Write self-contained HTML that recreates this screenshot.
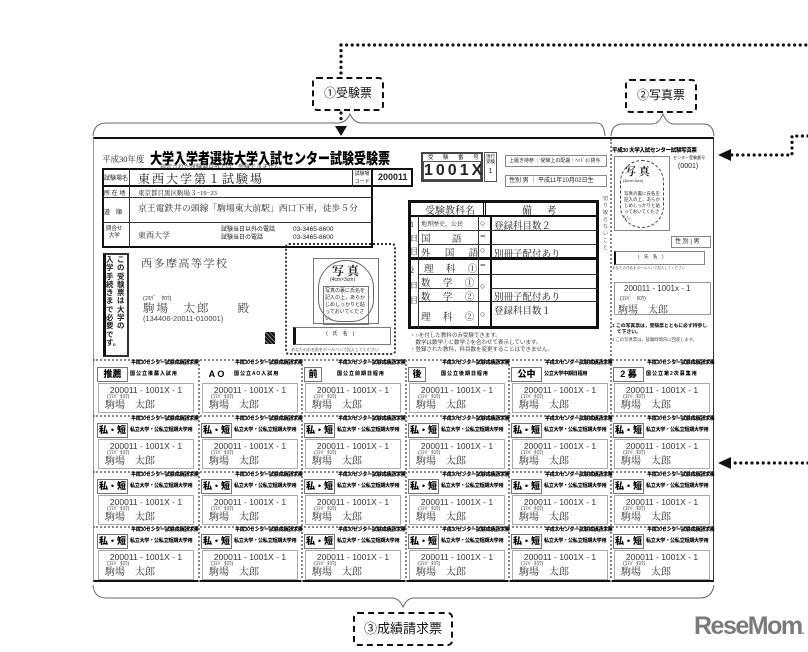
<!DOCTYPE html>
<html><head><meta charset="utf-8">
<style>
*{margin:0;padding:0;box-sizing:border-box}
body{width:808px;height:652px;background:#fff;position:relative;overflow:hidden;font-family:"Liberation Sans","Noto Sans CJK JP",sans-serif;color:#222}
.a{position:absolute;white-space:nowrap}
.s{font-family:"Liberation Serif","Noto Serif CJK JP",serif}
.card{position:absolute;width:103px;height:55.5px;white-space:nowrap}
.card div{white-space:nowrap;line-height:1.1}
.card .lb{position:absolute;left:2px;top:7px;width:31px;height:15px;border:1px solid #777;font-weight:900;font-size:9px;line-height:13px;text-align:center;color:#000}
.card .h1{position:absolute;left:36px;top:1px;font-size:5px;font-weight:900;color:#000;letter-spacing:-.2px}
.card .h2{position:absolute;left:35px;top:12px;font-size:5px;font-weight:900;color:#000;background:#fff;letter-spacing:-.2px}
.card .ib{position:absolute;left:3px;top:23px;width:96px;height:30px;border:1px solid #aaa}
.card .n{position:absolute;left:0;width:100%;top:2px;text-align:center;font-size:8.5px;color:#333}
.card .k{position:absolute;left:8px;top:11px;font-size:5px;color:#333}
.card .m{position:absolute;left:6px;top:16px;font-size:10px;line-height:11px;color:#333;font-family:"Liberation Serif","Noto Serif CJK JP",serif}
.lab{position:absolute;border:2.5px dashed #111;border-radius:5px;font-size:12px;text-align:center;color:#111}
</style></head><body>

<svg class="a" style="left:0;top:0" width="808" height="652">
 <g fill="none" stroke="#111" stroke-width="3.2" stroke-linecap="round" stroke-dasharray="0 5.6">
  <path d="M341,45 L808,45"/>
  <path d="M341,45 L341,76"/>
  <path d="M341,113 L341,124"/>
  <path d="M808,136 L792,136 L792,155 L731,155"/>
  <path d="M808,463 L731,463"/>
 </g>
 <path d="M335,126 L347,126 L341,136 Z" fill="#111"/>
 <path d="M718,155 L731,149 L731,161 Z" fill="#111"/>
 <path d="M718,463 L731,457 L731,469 Z" fill="#111"/>
 <g fill="none" stroke="#666" stroke-width="1">
  <path d="M93,136 Q94,123 106,123 L338,123 Q346,123 350,114 Q354,123 362,123 L597,123 Q604,123 605,136"/>
  <path d="M611,136 Q612,124 622,124 L652,124 Q659,124 663,114 Q667,124 674,124 L704,124 Q713,124 714,136"/>
  <path d="M93,585 Q94,598 106,598 L392,598 Q399,598 403,607 Q407,598 414,598 L700,598 Q712,598 714,585"/>
 </g>
</svg>

<div class="lab" style="left:312px;top:77px;width:72px;height:34px;line-height:29px">①受験票</div>
<div class="lab" style="left:625px;top:79px;width:72px;height:34px;line-height:29px">②写真票</div>
<div class="lab" style="left:353px;top:612px;width:100px;height:34px;line-height:29px;font-size:13px">③成績請求票</div>
<div class="a" style="left:694px;top:612px;font-size:25px;font-weight:bold;color:#7a7a7a;letter-spacing:-1.5px">ReseMom<span style="font-size:10px">.</span></div>

<div class="a" style="left:93px;top:137px;width:621px;height:445px;border-top:2px solid #111;border-bottom:2px solid #111;border-right:1.5px solid #333;border-left:1px solid #999"></div>
<div class="a" style="left:610px;top:139px;height:221px;border-left:2px dotted #888"></div>

<div class="a s" style="left:102px;top:153px;font-size:8.5px">平成30年度</div>
<div class="a" style="left:150px;top:147px;font-size:12px;font-weight:900;color:#000;transform:scaleY(1.25);transform-origin:left top">大学入学者選抜大学入試センター試験受験票</div>
<div class="a" style="left:160px;top:162px;font-size:6px;color:#444">指定された試験場以外では、受験できません。</div>

<div class="a" style="left:102px;top:168px;width:311px;height:19px;border:2px solid #111"></div>
<div class="a" style="left:102px;top:185px;width:271px;height:63px;border:2px solid #111"></div>
<div class="a" style="left:129px;top:168px;height:80px;border-left:1px solid #333"></div>
<div class="a" style="left:102px;top:197px;width:271px;border-top:1px solid #333"></div>
<div class="a" style="left:102px;top:222px;width:271px;border-top:1px solid #333"></div>
<div class="a" style="left:352px;top:168px;width:21px;height:19px;border-left:1px solid #333;border-right:2px solid #111;font-size:5px;text-align:center;line-height:8px;padding-top:2px">試験場<br>コード</div>
<div class="a" style="left:378px;top:172px;font-size:9px;font-weight:900">200011</div>
<div class="a" style="left:104px;top:173px;font-size:6px">試験場名</div>
<div class="a s" style="left:138px;top:170px;font-size:12px;letter-spacing:2px">東西大学第１試験場</div>
<div class="a" style="left:104px;top:188px;font-size:6px">所 在 地</div>
<div class="a s" style="left:138px;top:188px;font-size:6.5px">東京都目黒区駒場３−19−23</div>
<div class="a" style="left:104px;top:207px;font-size:6px">道　順</div>
<div class="a s" style="left:138px;top:201px;font-size:8.8px">京王電鉄井の頭線「駒場東大前駅」西口下車，徒歩５分</div>
<div class="a" style="left:106px;top:226px;font-size:5.5px;line-height:7px;text-align:center">問合せ<br>大学</div>
<div class="a s" style="left:138px;top:230px;font-size:8px">東西大学</div>
<div class="a" style="left:221px;top:226px;font-size:6px;line-height:8px">試験当日以外の電話<br>試験当日の電話</div>
<div class="a" style="left:293px;top:226px;font-size:6.5px;line-height:8px">03-3465-8600<br>03-3465-8600</div>

<div class="a" style="left:103px;top:253px;width:26px;height:104px;border:2px solid #333;border-left:3px solid #111"></div>
<div class="a" style="left:106px;top:256px;width:10px;font-size:7.5px;font-weight:bold;line-height:8.3px;white-space:normal">入学手続きまで必要です。</div>
<div class="a" style="left:117px;top:256px;width:10px;font-size:7.5px;font-weight:bold;line-height:8.3px;white-space:normal">この受験票は大学の</div>

<div class="a s" style="left:141px;top:255px;font-size:11px;color:#444;letter-spacing:1.5px">西多摩高等学校</div>
<div class="a" style="left:143px;top:294px;font-size:5.5px">(ｺﾏﾊﾞ　ﾀﾛｳ)</div>
<div class="a s" style="left:143px;top:300px;font-size:11.5px;color:#444;letter-spacing:2px">駒場　太郎　　殿</div>
<div class="a" style="left:143px;top:314px;font-size:7.5px;color:#444">(134406-20011-010001)</div>
<div class="a" style="left:265px;top:332px;width:10px;height:12px;background:repeating-linear-gradient(45deg,#111 0 2px,#888 2px 3px)"></div>

<div class="a" style="left:285px;top:243px;width:111px;height:112px;border:2px dotted #333;border-radius:4px"></div>
<div class="a" style="left:313px;top:258px;width:66px;height:66px;border:1px solid #777"></div>
<div class="a" style="left:318px;top:260px;width:56px;height:62px;border:1px solid #666;border-radius:28px 28px 22px 22px"></div>
<div class="a s" style="left:332px;top:262px;font-size:12px;font-weight:bold">写 真</div>
<div class="a" style="left:330px;top:277px;font-size:5px">(4cm×3cm)</div>
<div class="a" style="left:323px;top:286px;font-size:5px;line-height:7px;white-space:normal;width:46px;border:1px solid #777;padding:1px">写真の裏に氏名を記入の上，あらかじめしっかりと貼っておいてください。</div>
<div class="a" style="left:293px;top:327px;width:98px;height:18px;border:1px solid #777;border-left:3px solid #111"></div>
<div class="a" style="left:326px;top:330px;font-size:5px">(　氏　名　)</div>
<div class="a" style="left:291px;top:347px;font-size:4px;color:#555">あなたのお名前をボールペンで記入してください</div>

<div class="a" style="left:421px;top:152px;width:62px;height:30px;border:2px solid #444"></div>
<div class="a" style="left:428px;top:153px;font-size:5.5px;letter-spacing:4px">受 験 番 号</div>
<div class="a" style="left:423px;top:161px;width:58px;height:19px;border:1px solid #555;font-size:16px;font-weight:bold;text-align:center;line-height:18px;letter-spacing:3px">1001X</div>
<div class="a" style="left:484px;top:152px;width:13px;height:30px;border:1px solid #555;font-size:4.5px;text-align:center;line-height:5px;padding-top:1px">現行<br>受験<br><br><span style="font-size:7px">1</span></div>
<div class="a" style="left:505px;top:155px;width:102px;height:12px;border:1px solid #888;font-size:5px;line-height:10px;padding-left:3px">上履き持参 ｜受験上の配慮｜ﾍｯﾄﾞﾎﾝ貸与</div>
<div class="a" style="left:505px;top:175px;width:102px;height:12px;border:1px solid #888;font-size:6px;line-height:10px;padding-left:3px">性別 男 ｜ 平成11年10月02日生</div>

<div class="a" style="left:408px;top:200px;width:191px;height:129px;border:3px solid #111"></div>
<div class="a" style="left:408px;top:215px;width:191px;border-top:2px solid #111"></div>
<div class="a" style="left:408px;top:257px;width:191px;border-top:3px solid #111"></div>
<div class="a" style="left:483px;top:200px;height:16px;border-left:3px double #111"></div>
<div class="a" style="left:418px;top:216px;height:112px;border-left:1px solid #333"></div>
<div class="a" style="left:478px;top:216px;height:112px;border-left:1px solid #333"></div>
<div class="a" style="left:490px;top:216px;height:112px;border-left:2px solid #111"></div>
<div class="a" style="left:418px;top:230px;width:180px;border-top:1px solid #333"></div>
<div class="a" style="left:418px;top:244px;width:180px;border-top:1px solid #333"></div>
<div class="a" style="left:418px;top:274px;width:180px;border-top:1px solid #333"></div>
<div class="a" style="left:418px;top:288px;width:60px;border-top:1px solid #333"></div>
<div class="a" style="left:490px;top:288px;width:108px;border-top:1px solid #333"></div>
<div class="a" style="left:418px;top:301px;width:180px;border-top:1px solid #333"></div>
<div class="a s" style="left:425px;top:202px;font-size:10px">受験教科名</div>
<div class="a s" style="left:522px;top:202px;font-size:10px;letter-spacing:6px">備 考</div>
<div class="a s" style="left:410px;top:218px;font-size:8px;line-height:13.5px;white-space:normal;width:8px">1日目</div>
<div class="a s" style="left:410px;top:263px;font-size:8px;line-height:15px;white-space:normal;width:8px">2日目</div>
<div class="a s" style="left:421px;top:219px;font-size:6px">地理歴史，公民</div>
<div class="a s" style="left:421px;top:231px;font-size:9.5px;letter-spacing:6px">国　語</div>
<div class="a s" style="left:421px;top:245px;font-size:9.5px;letter-spacing:6px">外 国 語</div>
<div class="a s" style="left:424px;top:261px;font-size:9.5px;letter-spacing:5px">理 科 ①</div>
<div class="a s" style="left:421px;top:275px;font-size:9.5px;letter-spacing:5px">数 学 ①</div>
<div class="a s" style="left:421px;top:289px;font-size:9.5px;letter-spacing:5px">数 学 ②</div>
<div class="a s" style="left:421px;top:309px;font-size:9.5px;letter-spacing:5px">理 科 ②</div>
<div class="a" style="left:480px;top:218px;font-size:9px">○</div>
<div class="a" style="left:480px;top:231px;font-size:9px;font-weight:bold">−</div>
<div class="a" style="left:480px;top:245px;font-size:9px">○</div>
<div class="a" style="left:480px;top:260px;font-size:9px;font-weight:bold">−</div>
<div class="a" style="left:480px;top:281px;font-size:9px">○</div>
<div class="a" style="left:480px;top:309px;font-size:9px">○</div>
<div class="a s" style="left:494px;top:218px;font-size:9.5px">登録科目数２</div>
<div class="a s" style="left:494px;top:246px;font-size:9.5px">別冊子配付あり</div>
<div class="a s" style="left:494px;top:289px;font-size:9.5px">別冊子配付あり</div>
<div class="a s" style="left:494px;top:303px;font-size:9.5px">登録科目数１</div>
<div class="a" style="left:410px;top:333px;font-size:5.5px;line-height:7px;color:#444">・○を付した教科のみ受験できます。<br>　数学は数学①と数学②を合わせて表示しています。<br>・登録された教科，科目数を変更することはできません。</div>
<div class="a" style="left:603px;top:196px;width:6px;font-size:5px;line-height:7px;white-space:normal;color:#555">切り取らないこと</div>

<div class="a" style="left:612px;top:146px;font-size:5.5px;font-weight:900;color:#000;letter-spacing:-.3px">平成30 大学入試センター試験写真票</div>
<div class="a" style="left:614px;top:156px;width:56px;height:75px;border:1px solid #888"></div>
<div class="a" style="left:620px;top:160px;width:44px;height:68px;border:1px dashed #444;border-radius:22px"></div>
<div class="a s" style="left:625px;top:163px;font-size:11px;font-weight:bold">写 真</div>
<div class="a" style="left:623px;top:178px;font-size:4px">(4cm×3cm)</div>
<div class="a" style="left:624px;top:191px;width:36px;font-size:4.5px;line-height:6px;white-space:normal">写真の裏に氏名を記入の上，あらかじめしっかりと貼っておいてください。</div>
<div class="a" style="left:673px;top:155px;font-size:4px">センター受験番号</div>
<div class="a" style="left:678px;top:163px;font-size:7px">(0001)</div>
<div class="a" style="left:671px;top:236px;width:40px;height:12px;border:1px solid #888;font-size:6px;line-height:10px;padding-left:3px">性 別 | 男</div>
<div class="a" style="left:614px;top:251px;width:91px;height:14px;border:1px solid #888;border-left:2px solid #111;font-size:4.5px;padding-left:22px;line-height:10px">(　氏　名　)</div>
<div class="a" style="left:612px;top:266px;font-size:3.5px;color:#555">あなたの氏名をボールペンで記入してください</div>
<div class="a" style="left:614px;top:282px;width:97px;height:33px;border:1px solid #999"></div>
<div class="a" style="left:624px;top:284px;font-size:8px;color:#333">200011 - 1001x - 1</div>
<div class="a" style="left:620px;top:295px;font-size:5px">(ｺﾏﾊﾞ　ﾀﾛｳ)</div>
<div class="a s" style="left:618px;top:301px;font-size:10px;color:#333">駒場　太郎</div>
<div class="a" style="left:612px;top:324px;font-size:4.8px;font-weight:900;line-height:6px">1 この写真票は，受験票とともに必ず持参し<br>　て下さい。</div>
<div class="a" style="left:612px;top:337px;font-size:4.3px;color:#444">2 この写真票は，試験時間内に回収します。</div>

<div class="a" style="left:93px;top:359px;width:621px;border-top:2px dotted #888"></div>
<div class="a" style="left:93px;top:415px;width:621px;border-top:2px dotted #888"></div>
<div class="a" style="left:93px;top:471px;width:621px;border-top:2px dotted #888"></div>
<div class="a" style="left:93px;top:526px;width:621px;border-top:2px dotted #888"></div>
<div class="a" style="left:198px;top:360px;height:222px;border-left:2px dotted #888"></div>
<div class="a" style="left:301px;top:360px;height:222px;border-left:2px dotted #888"></div>
<div class="a" style="left:405px;top:360px;height:222px;border-left:2px dotted #888"></div>
<div class="a" style="left:508px;top:360px;height:222px;border-left:2px dotted #888"></div>
<div class="a" style="left:610px;top:360px;height:222px;border-left:2px dotted #888"></div>

<div class="card" style="left:95px;top:360px"><div class="lb">推薦</div><div class="h1">平成30センター試験成績請求票</div><div class="h2">国 公 立 推 薦 入 試 用</div><div class="ib"><div class="n">200011 - 1001X - 1</div><div class="k">(ｺﾏﾊﾞ ﾀﾛｳ)</div><div class="m">駒場　太郎</div></div></div>
<div class="card" style="left:199px;top:360px"><div class="lb" style="border-color:#fff">A O</div><div class="h1">平成30センター試験成績請求票</div><div class="h2">国 公 立 A O 入 試 用</div><div class="ib"><div class="n">200011 - 1001X - 1</div><div class="k">(ｺﾏﾊﾞ ﾀﾛｳ)</div><div class="m">駒場　太郎</div></div></div>
<div class="card" style="left:302px;top:360px"><div class="lb" style="width:18px">前</div><div class="h1">平成30センター試験成績請求票</div><div class="h2">国 公 立 前 期 日 程 用</div><div class="ib"><div class="n">200011 - 1001X - 1</div><div class="k">(ｺﾏﾊﾞ ﾀﾛｳ)</div><div class="m">駒場　太郎</div></div></div>
<div class="card" style="left:406px;top:360px"><div class="lb" style="width:18px">後</div><div class="h1">平成30センター試験成績請求票</div><div class="h2">国 公 立 後 期 日 程 用</div><div class="ib"><div class="n">200011 - 1001X - 1</div><div class="k">(ｺﾏﾊﾞ ﾀﾛｳ)</div><div class="m">駒場　太郎</div></div></div>
<div class="card" style="left:509px;top:360px"><div class="lb">公中</div><div class="h1">平成30センター試験成績請求票</div><div class="h2">公立大学中期日程用</div><div class="ib"><div class="n">200011 - 1001X - 1</div><div class="k">(ｺﾏﾊﾞ ﾀﾛｳ)</div><div class="m">駒場　太郎</div></div></div>
<div class="card" style="left:611px;top:360px"><div class="lb">2 募</div><div class="h1">平成30センター試験成績請求票</div><div class="h2">国 公 立 第 2 次 募 集 用</div><div class="ib"><div class="n">200011 - 1001X - 1</div><div class="k">(ｺﾏﾊﾞ ﾀﾛｳ)</div><div class="m">駒場　太郎</div></div></div>

<div class="card" style="left:95px;top:416px"><div class="lb">私・短</div><div class="h1">平成30センター試験成績請求票</div><div class="h2">私立大学・公私立短期大学用</div><div class="ib"><div class="n">200011 - 1001X - 1</div><div class="k">(ｺﾏﾊﾞ ﾀﾛｳ)</div><div class="m">駒場　太郎</div></div></div>
<div class="card" style="left:199px;top:416px"><div class="lb">私・短</div><div class="h1">平成30センター試験成績請求票</div><div class="h2">私立大学・公私立短期大学用</div><div class="ib"><div class="n">200011 - 1001X - 1</div><div class="k">(ｺﾏﾊﾞ ﾀﾛｳ)</div><div class="m">駒場　太郎</div></div></div>
<div class="card" style="left:302px;top:416px"><div class="lb">私・短</div><div class="h1">平成30センター試験成績請求票</div><div class="h2">私立大学・公私立短期大学用</div><div class="ib"><div class="n">200011 - 1001X - 1</div><div class="k">(ｺﾏﾊﾞ ﾀﾛｳ)</div><div class="m">駒場　太郎</div></div></div>
<div class="card" style="left:406px;top:416px"><div class="lb">私・短</div><div class="h1">平成30センター試験成績請求票</div><div class="h2">私立大学・公私立短期大学用</div><div class="ib"><div class="n">200011 - 1001X - 1</div><div class="k">(ｺﾏﾊﾞ ﾀﾛｳ)</div><div class="m">駒場　太郎</div></div></div>
<div class="card" style="left:509px;top:416px"><div class="lb">私・短</div><div class="h1">平成30センター試験成績請求票</div><div class="h2">私立大学・公私立短期大学用</div><div class="ib"><div class="n">200011 - 1001X - 1</div><div class="k">(ｺﾏﾊﾞ ﾀﾛｳ)</div><div class="m">駒場　太郎</div></div></div>
<div class="card" style="left:611px;top:416px"><div class="lb">私・短</div><div class="h1">平成30センター試験成績請求票</div><div class="h2">私立大学・公私立短期大学用</div><div class="ib"><div class="n">200011 - 1001X - 1</div><div class="k">(ｺﾏﾊﾞ ﾀﾛｳ)</div><div class="m">駒場　太郎</div></div></div>

<div class="card" style="left:95px;top:472px"><div class="lb">私・短</div><div class="h1">平成30センター試験成績請求票</div><div class="h2">私立大学・公私立短期大学用</div><div class="ib"><div class="n">200011 - 1001X - 1</div><div class="k">(ｺﾏﾊﾞ ﾀﾛｳ)</div><div class="m">駒場　太郎</div></div></div>
<div class="card" style="left:199px;top:472px"><div class="lb">私・短</div><div class="h1">平成30センター試験成績請求票</div><div class="h2">私立大学・公私立短期大学用</div><div class="ib"><div class="n">200011 - 1001X - 1</div><div class="k">(ｺﾏﾊﾞ ﾀﾛｳ)</div><div class="m">駒場　太郎</div></div></div>
<div class="card" style="left:302px;top:472px"><div class="lb">私・短</div><div class="h1">平成30センター試験成績請求票</div><div class="h2">私立大学・公私立短期大学用</div><div class="ib"><div class="n">200011 - 1001X - 1</div><div class="k">(ｺﾏﾊﾞ ﾀﾛｳ)</div><div class="m">駒場　太郎</div></div></div>
<div class="card" style="left:406px;top:472px"><div class="lb">私・短</div><div class="h1">平成30センター試験成績請求票</div><div class="h2">私立大学・公私立短期大学用</div><div class="ib"><div class="n">200011 - 1001X - 1</div><div class="k">(ｺﾏﾊﾞ ﾀﾛｳ)</div><div class="m">駒場　太郎</div></div></div>
<div class="card" style="left:509px;top:472px"><div class="lb">私・短</div><div class="h1">平成30センター試験成績請求票</div><div class="h2">私立大学・公私立短期大学用</div><div class="ib"><div class="n">200011 - 1001X - 1</div><div class="k">(ｺﾏﾊﾞ ﾀﾛｳ)</div><div class="m">駒場　太郎</div></div></div>
<div class="card" style="left:611px;top:472px"><div class="lb">私・短</div><div class="h1">平成30センター試験成績請求票</div><div class="h2">私立大学・公私立短期大学用</div><div class="ib"><div class="n">200011 - 1001X - 1</div><div class="k">(ｺﾏﾊﾞ ﾀﾛｳ)</div><div class="m">駒場　太郎</div></div></div>

<div class="card" style="left:95px;top:527px"><div class="lb">私・短</div><div class="h1">平成30センター試験成績請求票</div><div class="h2">私立大学・公私立短期大学用</div><div class="ib"><div class="n">200011 - 1001X - 1</div><div class="k">(ｺﾏﾊﾞ ﾀﾛｳ)</div><div class="m">駒場　太郎</div></div></div>
<div class="card" style="left:199px;top:527px"><div class="lb">私・短</div><div class="h1">平成30センター試験成績請求票</div><div class="h2">私立大学・公私立短期大学用</div><div class="ib"><div class="n">200011 - 1001X - 1</div><div class="k">(ｺﾏﾊﾞ ﾀﾛｳ)</div><div class="m">駒場　太郎</div></div></div>
<div class="card" style="left:302px;top:527px"><div class="lb">私・短</div><div class="h1">平成30センター試験成績請求票</div><div class="h2">私立大学・公私立短期大学用</div><div class="ib"><div class="n">200011 - 1001X - 1</div><div class="k">(ｺﾏﾊﾞ ﾀﾛｳ)</div><div class="m">駒場　太郎</div></div></div>
<div class="card" style="left:406px;top:527px"><div class="lb">私・短</div><div class="h1">平成30センター試験成績請求票</div><div class="h2">私立大学・公私立短期大学用</div><div class="ib"><div class="n">200011 - 1001X - 1</div><div class="k">(ｺﾏﾊﾞ ﾀﾛｳ)</div><div class="m">駒場　太郎</div></div></div>
<div class="card" style="left:509px;top:527px"><div class="lb">私・短</div><div class="h1">平成30センター試験成績請求票</div><div class="h2">私立大学・公私立短期大学用</div><div class="ib"><div class="n">200011 - 1001X - 1</div><div class="k">(ｺﾏﾊﾞ ﾀﾛｳ)</div><div class="m">駒場　太郎</div></div></div>
<div class="card" style="left:611px;top:527px"><div class="lb">私・短</div><div class="h1">平成30センター試験成績請求票</div><div class="h2">私立大学・公私立短期大学用</div><div class="ib"><div class="n">200011 - 1001X - 1</div><div class="k">(ｺﾏﾊﾞ ﾀﾛｳ)</div><div class="m">駒場　太郎</div></div></div>

</body></html>
